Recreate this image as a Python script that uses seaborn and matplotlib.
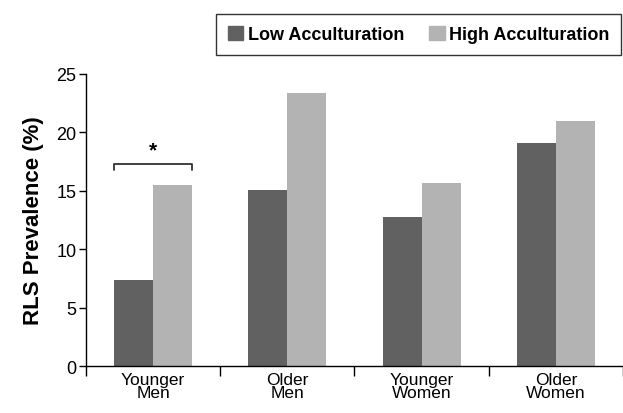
import numpy as np
import pandas as pd
import matplotlib.pyplot as plt
import seaborn as sns

groups = ["Younger\nMen", "Older\nMen", "Younger\nWomen", "Older\nWomen"]
levels = ["Low Acculturation", "High Acculturation"]
low_vals = [7.4, 15.1, 12.8, 19.1]
high_vals = [15.5, 23.4, 15.7, 21.0]
colors = ["#616161", "#b3b3b3"]

df = pd.DataFrame({
    "group": groups * 2,
    "level": [levels[0]] * 4 + [levels[1]] * 4,
    "value": low_vals + high_vals,
})

sns.set_style("ticks")
plt.rcParams["font.family"] = ["Liberation Sans", "DejaVu Sans"]
plt.rcParams["text.color"] = "black"
plt.rcParams["xtick.color"] = "black"
plt.rcParams["ytick.color"] = "black"
plt.rcParams["axes.labelcolor"] = "black"

fig = plt.figure(figsize=(6.23, 4.14), dpi=100)
ax = fig.add_axes([0.138, 0.113, 0.862, 0.706])
sns.barplot(data=df, x="group", y="value", hue="level", palette=colors,
            width=0.58, gap=0, saturation=1, linewidth=0, ax=ax, legend=False)

ax.set_xlim(-0.5, 3.5)
ax.set_ylim(0, 25)
ax.set_yticks([0, 5, 10, 15, 20, 25])
ax.tick_params(axis="y", labelsize=13, length=5, width=1, pad=2)
ax.set_xticks(range(4))
ax.set_xticklabels(groups, fontsize=12.5, linespacing=0.82)
ax.tick_params(axis="x", which="major", length=0, pad=4)
ax.set_xticks(np.arange(-0.5, 4, 1), minor=True)
ax.tick_params(axis="x", which="minor", length=7, width=1)
ax.set_xlabel("")
ax.set_ylabel("RLS Prevalence (%)", fontsize=16, fontweight="bold",
              labelpad=9)
for s in ["top", "right"]:
    ax.spines[s].set_visible(False)
for s in ["left", "bottom"]:
    ax.spines[s].set_color("black")
    ax.spines[s].set_linewidth(1)

# significance bracket
y_br = 17.3
ax.plot([-0.29, -0.29, 0.29, 0.29], [y_br - 0.5, y_br, y_br, y_br - 0.5],
        color="#333333", lw=1.3, clip_on=False)
ax.text(0, y_br + 0.4, "*", ha="center", va="bottom", fontsize=15,
        fontweight="bold")

handles = [plt.Rectangle((0, 0), 1, 1, color=c) for c in colors]
leg = fig.legend(handles, levels, loc="upper right",
                 bbox_to_anchor=(1.012, 0.985), ncol=2, frameon=True,
                 fancybox=False, handlelength=0.85, handleheight=0.85,
                 handletextpad=0.25, columnspacing=1.4,
                 prop={"weight": "bold", "size": 13}, borderpad=0.65)
leg.get_frame().set_edgecolor("black")
leg.get_frame().set_linewidth(1)

fig.savefig("out.png", dpi=100)
